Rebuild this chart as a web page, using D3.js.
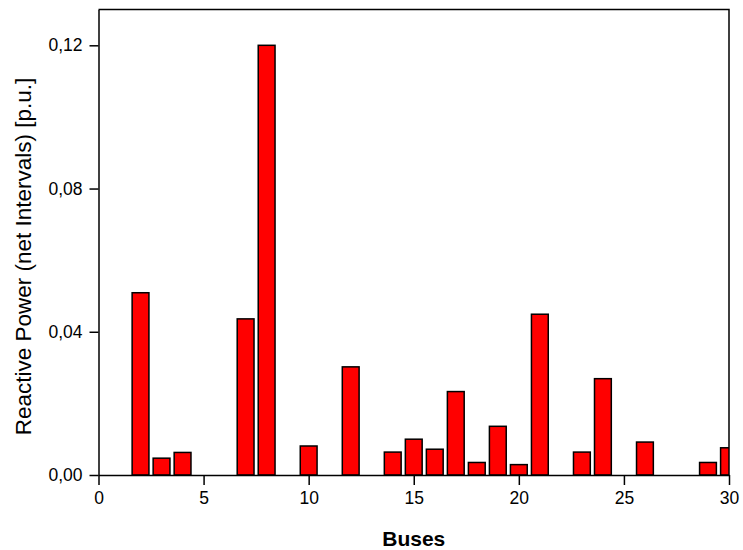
<!DOCTYPE html>
<html>
<head>
<meta charset="utf-8">
<script src="https://cdn.jsdelivr.net/npm/d3@7"></script>
<style>
  html, body { margin: 0; padding: 0; background: #fff; }
  svg { display: block; font-family: "Liberation Sans", Arial, sans-serif; }
</style>
</head>
<body>
<svg id="chart" width="743" height="550"></svg>
<script>
// Net reactive power interval per bus
const buses  = [2, 3, 4, 7, 8, 10, 12, 14, 15, 16, 17, 18, 19, 20, 21, 23, 24, 26, 29, 30];
const values = [0.0509, 0.0047, 0.0063, 0.0436, 0.1200, 0.0081, 0.0302, 0.0064, 0.0100, 0.0072,
                0.0233, 0.0035, 0.0136, 0.0029, 0.0449, 0.0064, 0.0269, 0.0092, 0.0035, 0.0076];
const xTicks = [0, 5, 10, 15, 20, 25, 30];
const yTicks = [0, 0.04, 0.08, 0.12];
const xTitle = "Buses";
const yTitle = "Reactive Power (net Intervals) [p.u.]";

const svg = d3.select("#chart");
const plotL = 98.5, plotR = 729, plotT = 9.5, plotB = 475;

const x = d3.scaleLinear().domain([0, 30]).range([plotL, plotR]);
const y = d3.scaleLinear().domain([0, 0.13]).range([plotB, plotT]);
const barW = 0.8;

svg.append("clipPath").attr("id", "plotClip")
  .append("rect").attr("x", plotL).attr("y", plotT).attr("width", plotR - plotL).attr("height", plotB - plotT);

svg.append("g").attr("clip-path", "url(#plotClip)")
  .selectAll("rect").data(buses).join("rect")
  .attr("x", (d) => x(d - barW / 2))
  .attr("width", (d) => x(d + barW / 2) - x(d - barW / 2))
  .attr("y", (d, i) => y(values[i]))
  .attr("height", (d, i) => y(0) - y(values[i]))
  .attr("fill", "#ff0000")
  .attr("stroke", "#000")
  .attr("stroke-width", 1.5);

// Frame: top and right edges
svg.append("path")
  .attr("d", `M${plotL},${plotT}H${plotR}V${plotB}`)
  .attr("fill", "none").attr("stroke", "#000").attr("stroke-width", 1.5);

const xAxis = svg.append("g").attr("transform", `translate(0,${plotB})`)
  .call(d3.axisBottom(x).tickValues(xTicks).tickSize(10).tickPadding(7).tickSizeOuter(0)
        .tickFormat(d3.format("d")));
const yAxis = svg.append("g").attr("transform", `translate(${plotL},0)`)
  .call(d3.axisLeft(y).tickValues(yTicks).tickSize(9).tickPadding(7).tickSizeOuter(0)
        .tickFormat((d) => d3.format(".2f")(d).replace(".", ",")));

[xAxis, yAxis].forEach((g) => {
  g.select(".domain").attr("stroke", "#000").attr("stroke-width", 1.5);
  g.selectAll(".tick line").attr("stroke", "#000").attr("stroke-width", 1.5);
  g.selectAll(".tick text").attr("fill", "#000")
    .style("font-size", "17.5px").style("font-family", "Liberation Sans, Arial, sans-serif");
});

svg.append("text")
  .attr("x", (plotL + plotR) / 2).attr("y", 546)
  .attr("text-anchor", "middle")
  .style("font-size", "21px").style("font-weight", "bold")
  .text(xTitle);

svg.append("text")
  .attr("transform", "translate(31,256.5) rotate(-90)")
  .attr("text-anchor", "middle")
  .style("font-size", "22.5px")
  .text(yTitle);
</script>
</body>
</html>
